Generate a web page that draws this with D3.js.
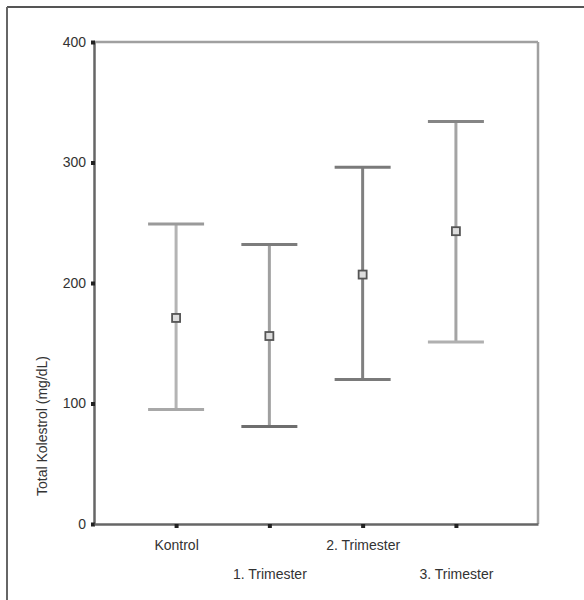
<!DOCTYPE html>
<html>
<head>
<meta charset="utf-8">
<script src="https://cdn.jsdelivr.net/npm/d3@7"></script>
<style>
  body { margin: 0; background: #fff; }
  text { font-family: "Liberation Sans", Arial, sans-serif; fill: #333; }
</style>
</head>
<body>
<script>
// groups and their mean / error bar limits (mg/dL)
var groups = ['Kontrol', '1. Trimester', '2. Trimester', '3. Trimester'];
var means = [171, 156, 207, 243];
var upper = [249, 232, 296, 334];
var lower = [95, 81, 120, 151];
var yTicks = [0, 100, 200, 300, 400];

// grey shades of each bar: stem, top cap, bottom cap
var stemColor = ['#b4b4b4', '#a0a0a0', '#808080', '#a4a4a4'];
var topCapColor = ['#9a9a9a', '#7c7c7c', '#7a7a7a', '#858585'];
var lowCapColor = ['#a8a8a8', '#6e6e6e', '#7a7a7a', '#b0b0b0'];

var W = 584, H = 600;
var plotL = 94, plotR = 538, plotT = 42, plotB = 524;

var svg = d3.select('body').append('svg').attr('width', W).attr('height', H);

// outer frame (only top and left visible)
svg.append('line').attr('x1', 7).attr('x2', W).attr('y1', 7).attr('y2', 7)
    .attr('stroke', '#555').attr('stroke-width', 2);
svg.append('line').attr('x1', 7).attr('x2', 7).attr('y1', 7).attr('y2', H)
    .attr('stroke', '#666').attr('stroke-width', 2);

var x = d3.scalePoint().domain(groups).range([plotL, plotR]).padding(0.88);
var y = d3.scaleLinear().domain([0, 400]).range([plotB, plotT]);

// plot box: top and right lighter
svg.append('line').attr('x1', plotL).attr('x2', plotR).attr('y1', plotT).attr('y2', plotT)
    .attr('stroke', '#a0a0a0').attr('stroke-width', 2.5);
svg.append('line').attr('x1', plotR).attr('x2', plotR).attr('y1', plotT).attr('y2', plotB)
    .attr('stroke', '#a0a0a0').attr('stroke-width', 2.5);

// y axis
var yAxis = svg.append('g').attr('transform', 'translate(' + plotL + ',0)')
    .call(d3.axisLeft(y).tickValues(yTicks).tickSize(0).tickPadding(8));
yAxis.select('.domain').attr('stroke', '#666').attr('stroke-width', 2.5);
yAxis.selectAll('text').style('font-size', '14px').attr('fill', '#333');
yAxis.selectAll('.tick').append('rect')
    .attr('x', -3).attr('y', -2).attr('width', 4).attr('height', 4).attr('fill', '#222');

// x axis
var xAxis = svg.append('g').attr('transform', 'translate(0,' + plotB + ')')
    .call(d3.axisBottom(x).tickSize(0).tickPadding(0));
xAxis.select('.domain').attr('stroke', '#666').attr('stroke-width', 2.5);
xAxis.selectAll('.tick').append('rect')
    .attr('x', -2).attr('y', 0).attr('width', 4).attr('height', 4).attr('fill', '#222');
xAxis.selectAll('text')
    .style('font-size', '14px').attr('fill', '#333')
    .attr('dy', 0)
    .attr('y', function (d, i) { return i % 2 === 0 ? 26 : 55; });

// y title
svg.append('text')
    .attr('transform', 'translate(47,426) rotate(-90)')
    .attr('text-anchor', 'middle')
    .style('font-size', '14px')
    .text('Total Kolestrol (mg/dL)');

// error bars
var capHalf = 28;
var bars = svg.selectAll('g.bar').data(groups).enter().append('g').attr('class', 'bar');

bars.append('line')
    .attr('x1', function (d) { return x(d); }).attr('x2', function (d) { return x(d); })
    .attr('y1', function (d, i) { return y(upper[i]); })
    .attr('y2', function (d, i) { return y(lower[i]); })
    .attr('stroke', function (d, i) { return stemColor[i]; })
    .attr('stroke-width', 3);

bars.append('line')
    .attr('x1', function (d) { return x(d) - capHalf; })
    .attr('x2', function (d) { return x(d) + capHalf; })
    .attr('y1', function (d, i) { return y(upper[i]); })
    .attr('y2', function (d, i) { return y(upper[i]); })
    .attr('stroke', function (d, i) { return topCapColor[i]; })
    .attr('stroke-width', 3);

bars.append('line')
    .attr('x1', function (d) { return x(d) - capHalf; })
    .attr('x2', function (d) { return x(d) + capHalf; })
    .attr('y1', function (d, i) { return y(lower[i]); })
    .attr('y2', function (d, i) { return y(lower[i]); })
    .attr('stroke', function (d, i) { return lowCapColor[i]; })
    .attr('stroke-width', 3);

bars.append('rect')
    .attr('x', function (d) { return x(d) - 4; })
    .attr('y', function (d, i) { return y(means[i]) - 4; })
    .attr('width', 8).attr('height', 8)
    .attr('fill', '#ddd')
    .attr('stroke', '#555')
    .attr('stroke-width', 1.8);
</script>
</body>
</html>
